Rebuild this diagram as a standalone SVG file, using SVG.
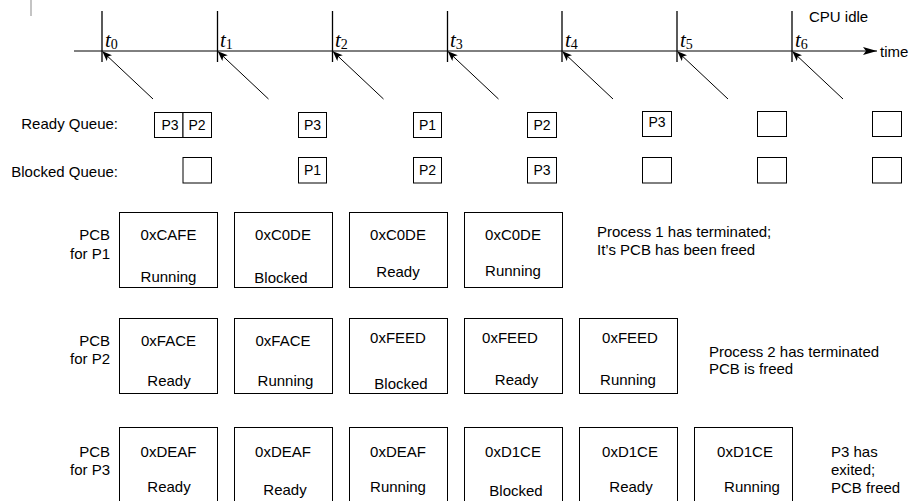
<svg xmlns="http://www.w3.org/2000/svg" width="911" height="501" viewBox="0 0 911 501">
<defs>
<marker id="ah" markerWidth="10" markerHeight="8" refX="9" refY="4" orient="auto" markerUnits="userSpaceOnUse">
<path d="M0,0 L10,4 L0,8 L2.5,4 Z" fill="#000"/>
</marker>
<marker id="axh" markerWidth="14" markerHeight="8" refX="14" refY="4" orient="auto" markerUnits="userSpaceOnUse">
<path d="M0,0 L14,4 L0,8 L3,4 Z" fill="#000"/>
</marker>
</defs>
<style>
text{font-family:"Liberation Sans",Arial,sans-serif;font-size:15px;fill:#000}
.q{font-size:14px;text-anchor:middle}
.c{text-anchor:middle}
.r{text-anchor:end}
.t{font-family:"Liberation Serif","Times New Roman",serif;font-style:italic;font-size:21px}
.sub{font-style:normal;font-size:14px}
.box{fill:#fff;stroke:#000;stroke-width:1}
.tick{stroke:#000;stroke-width:1.3}
.arr{stroke:#000;stroke-width:1;marker-end:url(#ah)}
</style>
<rect width="911" height="501" fill="#fff"/>
<line x1="31" y1="0" x2="31" y2="16" stroke="#b0b0b0" stroke-width="1.5"/>

<g id="timeline">
<line x1="74" y1="51" x2="877" y2="51" stroke="#000" stroke-width="1" marker-end="url(#axh)"/>
<line class="tick" x1="102" y1="11" x2="102" y2="62"/>
<line class="tick" x1="217.5" y1="11" x2="217.5" y2="62"/>
<line class="tick" x1="332.5" y1="11" x2="332.5" y2="62"/>
<line class="tick" x1="447.5" y1="11" x2="447.5" y2="62"/>
<line class="tick" x1="562" y1="11" x2="562" y2="62"/>
<line class="tick" x1="677" y1="11" x2="677" y2="62"/>
<line class="tick" x1="792" y1="11" x2="792" y2="62"/>
<text class="t" x="105" y="47">t<tspan class="sub" dy="2">0</tspan></text>
<text class="t" x="220" y="47">t<tspan class="sub" dy="2">1</tspan></text>
<text class="t" x="335" y="47">t<tspan class="sub" dy="2">2</tspan></text>
<text class="t" x="450" y="47">t<tspan class="sub" dy="2">3</tspan></text>
<text class="t" x="565" y="47">t<tspan class="sub" dy="2">4</tspan></text>
<text class="t" x="680" y="47">t<tspan class="sub" dy="2">5</tspan></text>
<text class="t" x="795" y="47">t<tspan class="sub" dy="2">6</tspan></text>
<text x="880" y="57">time</text>
<text x="809" y="22">CPU idle</text>
</g>

<g id="connectors">
<line class="arr" x1="153" y1="99" x2="103" y2="52"/>
<line class="arr" x1="268.5" y1="99" x2="218.5" y2="52"/>
<line class="arr" x1="383.5" y1="99" x2="333.5" y2="52"/>
<line class="arr" x1="498.5" y1="99" x2="448.5" y2="52"/>
<line class="arr" x1="613" y1="99" x2="563" y2="52"/>
<line class="arr" x1="728" y1="99" x2="678" y2="52"/>
<line class="arr" x1="843" y1="99" x2="793" y2="52"/>
</g>

<g id="ready-queue">
<text class="r" x="118" y="129">Ready Queue:</text>
<rect class="box" x="154.5" y="112.5" width="28.5" height="25"/>
<rect class="box" x="183" y="112.5" width="28.5" height="25"/>
<text class="q" x="170" y="130">P3</text>
<text class="q" x="197" y="130">P2</text>
<rect class="box" x="298.5" y="112.5" width="28" height="25"/>
<text class="q" x="312.5" y="130">P3</text>
<rect class="box" x="413.5" y="112.5" width="28" height="25"/>
<text class="q" x="427.5" y="130">P1</text>
<rect class="box" x="527.5" y="112.5" width="29" height="25"/>
<text class="q" x="542" y="130">P2</text>
<rect class="box" x="642.5" y="111.5" width="29" height="25"/>
<text class="q" x="657" y="127">P3</text>
<rect class="box" x="757.5" y="111.5" width="29" height="25"/>
<rect class="box" x="872.5" y="111.5" width="29" height="25"/>
</g>

<g id="blocked-queue">
<text class="r" x="118" y="177">Blocked Queue:</text>
<rect class="box" x="183" y="157.5" width="28.5" height="25.5"/>
<rect class="box" x="298.5" y="157.5" width="28" height="25.5"/>
<text class="q" x="312.5" y="175">P1</text>
<rect class="box" x="413.5" y="157.5" width="28" height="25.5"/>
<text class="q" x="427.5" y="175">P2</text>
<rect class="box" x="527.5" y="157.5" width="29" height="25.5"/>
<text class="q" x="542" y="175">P3</text>
<rect class="box" x="642.5" y="157.5" width="29" height="25.5"/>
<rect class="box" x="757.5" y="157.5" width="29" height="25.5"/>
<rect class="box" x="872.5" y="157.5" width="29" height="25.5"/>
</g>

<g id="pcb-p1">
<text class="r" x="110" y="240">PCB</text>
<text class="r" x="110" y="259">for P1</text>
<rect class="box" x="119.5" y="212.5" width="98" height="75"/>
<text class="c" x="168.5" y="240">0xCAFE</text>
<text class="c" x="168.5" y="282">Running</text>
<rect class="box" x="234.5" y="212.5" width="98" height="75"/>
<text class="c" x="283" y="240">0xC0DE</text>
<text class="c" x="281" y="283">Blocked</text>
<rect class="box" x="349.5" y="212.5" width="98" height="75"/>
<text class="c" x="398" y="240">0xC0DE</text>
<text class="c" x="398" y="277">Ready</text>
<rect class="box" x="464.5" y="212.5" width="98" height="75"/>
<text class="c" x="513" y="240">0xC0DE</text>
<text class="c" x="513" y="276">Running</text>
<text x="597" y="237">Process 1 has terminated;</text>
<text x="597" y="255">It’s PCB has been freed</text>
</g>

<g id="pcb-p2">
<text class="r" x="110" y="346">PCB</text>
<text class="r" x="110" y="364">for P2</text>
<rect class="box" x="119.5" y="318.5" width="98" height="75"/>
<text class="c" x="168.5" y="346">0xFACE</text>
<text class="c" x="169" y="386">Ready</text>
<rect class="box" x="234.5" y="318.5" width="98" height="75"/>
<text class="c" x="283" y="346">0xFACE</text>
<text class="c" x="285.5" y="386">Running</text>
<rect class="box" x="349.5" y="318.5" width="98" height="75"/>
<text class="c" x="398" y="343">0xFEED</text>
<text class="c" x="401" y="389">Blocked</text>
<rect class="box" x="464.5" y="318.5" width="98" height="75"/>
<text class="c" x="510" y="343">0xFEED</text>
<text class="c" x="516.5" y="385">Ready</text>
<rect class="box" x="579.5" y="318.5" width="98" height="75"/>
<text class="c" x="630" y="343">0xFEED</text>
<text class="c" x="628" y="385">Running</text>
<text x="709" y="357">Process 2 has terminated</text>
<text x="709" y="374">PCB is freed</text>
</g>

<g id="pcb-p3">
<text class="r" x="110" y="457">PCB</text>
<text class="r" x="110" y="475">for P3</text>
<rect class="box" x="119.5" y="427.5" width="98" height="80"/>
<text class="c" x="168.5" y="457">0xDEAF</text>
<text class="c" x="169" y="492">Ready</text>
<rect class="box" x="234.5" y="427.5" width="98" height="80"/>
<text class="c" x="283" y="457">0xDEAF</text>
<text class="c" x="285" y="495">Ready</text>
<rect class="box" x="349.5" y="427.5" width="98" height="80"/>
<text class="c" x="398" y="457">0xDEAF</text>
<text class="c" x="398" y="492">Running</text>
<rect class="box" x="464.5" y="427.5" width="98" height="80"/>
<text class="c" x="513" y="457">0xD1CE</text>
<text class="c" x="516" y="496">Blocked</text>
<rect class="box" x="579.5" y="427.5" width="98" height="80"/>
<text class="c" x="630" y="457">0xD1CE</text>
<text class="c" x="631" y="492">Ready</text>
<rect class="box" x="694.5" y="427.5" width="98" height="80"/>
<text class="c" x="745" y="457">0xD1CE</text>
<text class="c" x="752" y="492">Running</text>
<text x="831" y="457">P3 has</text>
<text x="831" y="475">exited;</text>
<text x="831" y="493">PCB freed</text>
</g>
</svg>
